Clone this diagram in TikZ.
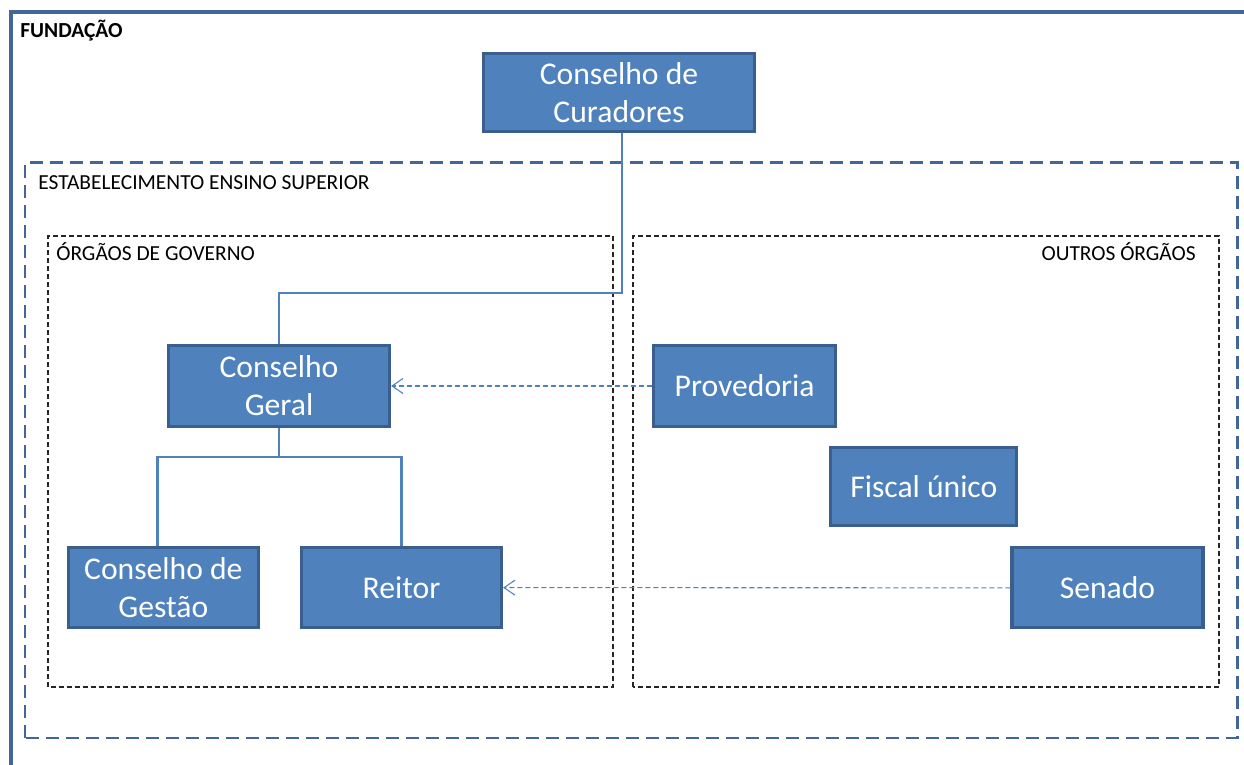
\documentclass[tikz,border=0pt]{standalone}
\usepackage{fontspec}
\setmainfont{Carlito}
\usepackage{xcolor}
\usepackage{tikz}
\usetikzlibrary{arrows.meta, positioning}

\definecolor{boxfill}{HTML}{4F81BD}
\definecolor{boxline}{HTML}{3A5F8F}
\definecolor{framecol}{HTML}{42669A}

\begin{document}
\begin{tikzpicture}[
    unit/.style={rectangle, draw=boxline, fill=boxfill, line width=1.8pt,
                 inner sep=0pt, align=center, text=white,
                 font=\fontsize{18}{21.6}\selectfont},
    label/.style={inner sep=0pt, font=\fontsize{12.2}{14}\selectfont},
    outer/.style={draw=framecol, line width=2.3pt},
    estab/.style={draw=framecol, line width=1.7pt, dash pattern=on 0.26cm off 0.14cm},
    orgbox/.style={draw=black!85, line width=0.7pt, dash pattern=on 0.1cm off 0.06cm},
    link/.style={draw=boxfill, line width=1.4pt},
    ref/.style={draw=boxfill, line width=0.6pt, dash pattern=on 0.1cm off 0.06cm,
                -{Straight Barb[length=0.22cm, width=0.3cm]}}
]

\useasboundingbox (0,0) rectangle (24.88,15.30);
\clip (0,0) rectangle (24.88,15.30);

% frames
\draw[outer] (0.22,-1) |- (26,15.06);
\draw[estab] (0.5,0.54) rectangle (24.74,12.04);
\draw[orgbox] (0.96,1.56) rectangle (12.26,10.58);
\draw[orgbox] (12.66,1.56) rectangle (24.38,10.58);

\node[label, anchor=base west, font=\fontsize{12.2}{14}\selectfont\bfseries] (fundacao)
    at (0.4,14.55) {FUNDAÇÃO};
\node[label, anchor=base west] (estlabel) at (0.76,11.51) {ESTABELECIMENTO ENSINO SUPERIOR};
\node[label, anchor=base west] (govlabel) at (1.12,10.09) {ÓRGÃOS DE GOVERNO};
\node[label, anchor=base east] (outlabel) at (23.92,10.09) {OUTROS ÓRGÃOS};

% governo
\node[unit, minimum width=5.42cm, minimum height=1.56cm] (curadores)
    at (12.38,13.45) {Conselho de\\Curadores};

\node[unit, minimum width=4.42cm, minimum height=1.62cm] (geral)
    at (5.58,7.58) {Conselho\\Geral};

\node[unit, minimum width=3.80cm, minimum height=1.60cm,
      below left=2.36cm and -1.86cm of geral] (gestao)
    {Conselho de\\Gestão};

\node[unit, minimum width=4.00cm, minimum height=1.60cm,
      right=0.8cm of gestao] (reitor)
    {Reitor};

% outros
\node[unit, minimum width=3.64cm, minimum height=1.62cm,
      right=5.22cm of geral] (provedoria)
    {Provedoria};

\node[unit, minimum width=3.72cm, minimum height=1.56cm,
      below right=0.36cm and -0.16cm of provedoria] (fiscal)
    {Fiscal único};

\node[unit, minimum width=3.82cm, minimum height=1.60cm,
      below right=0.38cm and -0.16cm of fiscal] (senado)
    {Senado};

\draw[link] ([xshift=0.06cm]curadores.south) -- ++(0,-3.2) -| (geral.north);
\draw[link] (geral.south) -- ++(0,-0.58) coordinate (fork);
\draw[link] (fork) -| ([xshift=-0.12cm]gestao.north);
\draw[link] (fork) -| (reitor.north);
\draw[ref] (provedoria.west) -- (geral.east);
\draw[ref] (senado.west) -- (reitor.east);

\end{tikzpicture}
\end{document}
